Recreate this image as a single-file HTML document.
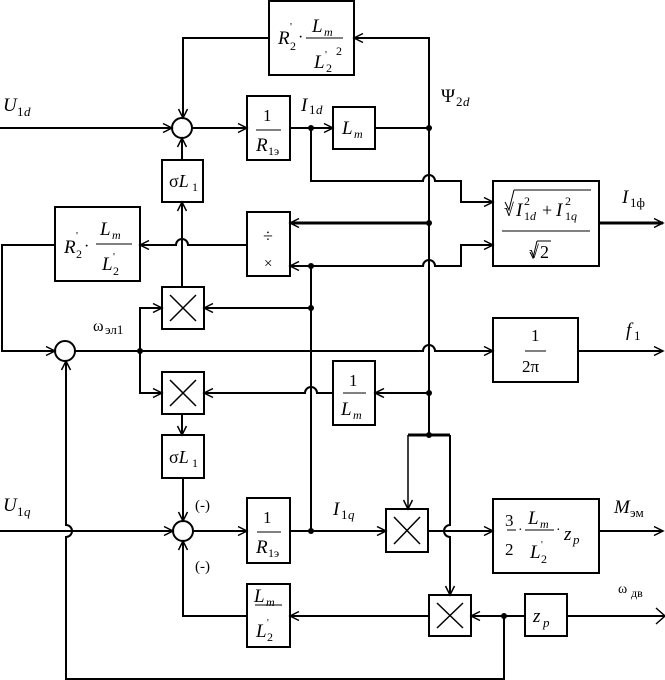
<!DOCTYPE html>
<html><head><meta charset="utf-8"><style>
html,body{margin:0;padding:0;background:#fff}
svg{display:block}
text{font-family:"Liberation Serif",serif;fill:#000}
.i{font-style:italic}
</style></head><body>
<svg width="665" height="680" viewBox="0 0 665 680" xmlns="http://www.w3.org/2000/svg">
<defs>
<marker id="a" markerUnits="userSpaceOnUse" markerWidth="12" markerHeight="12" refX="10" refY="5" orient="auto" viewBox="0 0 12 10">
<path d="M1,0.5 L10,5 L1,9.5" fill="none" stroke="#000" stroke-width="1.5"/>
</marker>
</defs>
<g fill="none" stroke="#000" stroke-width="2">
<rect x="269" y="1" width="85" height="74"/>
<rect x="247" y="96" width="43" height="64"/>
<rect x="333" y="107" width="42" height="42"/>
<rect x="162" y="160" width="41" height="42"/>
<rect x="493" y="181" width="106" height="85"/>
<rect x="247" y="212" width="43" height="64"/>
<rect x="55" y="207" width="85" height="74"/>
<rect x="162" y="287" width="42" height="42"/>
<rect x="493" y="318" width="85" height="64"/>
<rect x="162" y="372" width="42" height="42"/>
<rect x="333" y="361" width="42" height="64"/>
<rect x="162" y="435" width="42" height="43"/>
<rect x="247" y="498" width="43" height="65"/>
<rect x="386" y="509" width="42" height="43"/>
<rect x="493" y="499" width="106" height="74"/>
<rect x="429" y="595" width="42" height="41"/>
<rect x="525" y="594" width="42" height="42"/>
<rect x="247" y="584" width="43" height="63"/>
<circle cx="182" cy="128" r="10"/>
<circle cx="65" cy="351" r="10"/>
<circle cx="183" cy="531" r="10"/>
</g>
<g fill="none" stroke="#000" stroke-width="1.5">
<path d="M170,295 L196,321 M196,295 L170,321"/>
<path d="M170,380 L196,406 M196,380 L170,406"/>
<path d="M394,517 L420,544 M420,517 L394,544"/>
<path d="M437,603 L463,628 M463,603 L437,628"/>
</g>
<g fill="none" stroke="#000" stroke-width="2">
<path d="M429,435 L429,38 L354,38" marker-end="url(#a)"/>
<path d="M269,38 L183,38 L183,118" marker-end="url(#a)"/>
<path d="M0,128 L172,128" marker-end="url(#a)"/>
<path d="M192,128 L247,128" marker-end="url(#a)"/>
<path d="M290,128 L333,128" marker-end="url(#a)"/>
<path d="M375,128 L429,128"/>
<path d="M182,160 L182,138" marker-end="url(#a)"/>
<path d="M311,128 L311,181 L423,181 A6,6 0 0 1 435,181 L461,181 L461,202 L493,202" marker-end="url(#a)"/>
<path d="M429,223 L290,223" stroke-width="3" marker-end="url(#a)"/>
<path d="M599,223 L663,223" stroke-width="3" marker-end="url(#a)"/>
<path d="M247,245 L188,245 A6,6 0 0 0 176,245 L140,245" marker-end="url(#a)"/>
<path d="M311,531 L311,266 L290,266" marker-end="url(#a)"/>
<path d="M311,266 L423,266 A6,6 0 0 1 435,266 L461,266 L461,245 L493,245" marker-end="url(#a)"/>
<path d="M311,308 L204,308" marker-end="url(#a)"/>
<path d="M182,287 L182,202" marker-end="url(#a)"/>
<path d="M55,245 L2,245 L2,351 L55,351" marker-end="url(#a)"/>
<path d="M75,351 L423,351 A6,6 0 0 1 435,351 L493,351" marker-end="url(#a)"/>
<path d="M578,351 L663,351" marker-end="url(#a)"/>
<path d="M140,351 L140,308 L162,308" marker-end="url(#a)"/>
<path d="M140,351 L140,393 L162,393" marker-end="url(#a)"/>
<path d="M429,393 L375,393" marker-end="url(#a)"/>
<path d="M333,393 L317,393 A6,6 0 0 0 305,393 L204,393" marker-end="url(#a)"/>
<path d="M182,414 L182,435" marker-end="url(#a)"/>
<path d="M183,478 L183,521" marker-end="url(#a)"/>
<path d="M0,531 L173,531" marker-end="url(#a)"/>
<path d="M193,531 L247,531" marker-end="url(#a)"/>
<path d="M290,531 L386,531" marker-end="url(#a)"/>
<path d="M428,531 L493,531" marker-end="url(#a)"/>
<path d="M599,531 L663,531" marker-end="url(#a)"/>
<path d="M408,435 L450,435" stroke-width="3"/>
<path d="M408,435 L408,509" stroke-width="1.5" marker-end="url(#a)"/>
<path d="M450,435 L450,525 A6,6 0 0 0 450,537 L450,595" marker-end="url(#a)"/>
<path d="M665,616 L567,616"/>
<path d="M656,608 L665,616 L656,624" stroke-width="1.5"/>
<path d="M525,616 L471,616" marker-end="url(#a)"/>
<path d="M429,616 L290,616" marker-end="url(#a)"/>
<path d="M247,616 L183,616 L183,541" marker-end="url(#a)"/>
<path d="M504,616 L504,679 L66,679 L66,537 A6,6 0 0 0 66,525 L66,361" marker-end="url(#a)"/>
</g>
<g fill="none" stroke="#000" stroke-width="1">
<path d="M306,38 L343,38"/>
<path d="M96,244 L132,244"/>
<path d="M256,130 L281,130"/>
<path d="M257,532 L281,532"/>
<path d="M343,393 L366,393"/>
<path d="M525,351 L546,351"/>
<path d="M502,231 L590,231"/>
<path d="M514,190 L591,190 M514,190 L509,210 L505,202"/>
<path d="M537,241 L551,241 M537,241 L533,258 L530,252"/>
<path d="M507,530 L516,530 M525,530 L554,530"/>
<path d="M255,605 L282,605"/>
</g>
<g fill="#000">
<circle cx="311" cy="128" r="3"/><circle cx="429" cy="128" r="3"/>
<circle cx="429" cy="223" r="3"/><circle cx="311" cy="266" r="3"/>
<circle cx="311" cy="308" r="3"/><circle cx="140" cy="351" r="3"/>
<circle cx="429" cy="393" r="3"/><circle cx="429" cy="435" r="3"/>
<circle cx="311" cy="531" r="3"/><circle cx="504" cy="616" r="3"/>
</g>
<text x="278" y="44" class="i" font-size="19">R</text><text x="290" y="30" font-size="11">'</text><text x="290" y="50" font-size="12">2</text>
<text x="298" y="42" font-size="16">·</text>
<text x="312" y="32" class="i" font-size="19">L</text><text x="324" y="36" class="i" font-size="12">m</text>
<text x="314" y="68" class="i" font-size="19">L</text><text x="325" y="58" font-size="11">'</text><text x="326" y="72" font-size="12">2</text><text x="336" y="55" font-size="12">2</text>
<text x="3" y="111" class="i" font-size="19">U</text><text x="17" y="116" font-size="13">1</text><text x="24" y="116" class="i" font-size="13">d</text>
<text x="263" y="121" font-size="17">1</text>
<text x="256" y="151" class="i" font-size="19">R</text><text x="268" y="155" font-size="12">1э</text>
<text x="301" y="111" class="i" font-size="19">I</text><text x="309" y="114" font-size="13">1</text><text x="316" y="114" class="i" font-size="13">d</text>
<text x="342" y="134" class="i" font-size="19">L</text><text x="354" y="138" class="i" font-size="12">m</text>
<text x="441" y="102" font-size="19">Ψ</text><text x="456" y="106" font-size="13">2</text><text x="463" y="106" class="i" font-size="13">d</text>
<text x="169" y="187" font-size="18">σ<tspan class="i">L</tspan></text><text x="192" y="191" font-size="12">1</text>
<text x="504" y="216" font-size="18">√</text><text x="516" y="216" class="i" font-size="19">I</text><text x="524" y="205" font-size="12">2</text><text x="524" y="220" font-size="12">1<tspan class="i">d</tspan></text><text x="542" y="216" font-size="18">+</text><text x="556" y="216" class="i" font-size="19">I</text><text x="565" y="205" font-size="12">2</text><text x="565" y="220" font-size="12">1<tspan class="i">q</tspan></text>
<text x="529" y="258" font-size="18">√</text><text x="540" y="258" font-size="18">2</text>
<text x="622" y="203" class="i" font-size="19">I</text><text x="630" y="207" font-size="13">1ф</text>
<text x="263" y="242" font-size="18">÷</text>
<text x="264" y="268" font-size="15">×</text>
<text x="64" y="253" class="i" font-size="19">R</text><text x="76" y="239" font-size="11">'</text><text x="76" y="258" font-size="12">2</text>
<text x="84" y="251" font-size="16">·</text>
<text x="100" y="235" class="i" font-size="19">L</text><text x="112" y="239" class="i" font-size="12">m</text>
<text x="102" y="270" class="i" font-size="19">L</text><text x="113" y="260" font-size="11">'</text><text x="113" y="275" font-size="12">2</text>
<text x="93" y="331" font-size="16">ω</text><text x="105" y="334" font-size="13">эл1</text>
<text x="531" y="341" font-size="17">1</text>
<text x="522" y="372" font-size="17">2π</text>
<text x="626" y="336" class="i" font-size="19">f</text><text x="634" y="340" font-size="13">1</text>
<text x="349" y="386" font-size="17">1</text>
<text x="341" y="415" class="i" font-size="19">L</text><text x="353" y="419" class="i" font-size="12">m</text>
<text x="169" y="463" font-size="18">σ<tspan class="i">L</tspan></text><text x="192" y="467" font-size="12">1</text>
<text x="3" y="511" class="i" font-size="19">U</text><text x="17" y="516" font-size="13">1</text><text x="24" y="516" class="i" font-size="13">q</text>
<text x="195" y="510" font-size="15">(-)</text>
<text x="195" y="571" font-size="15">(-)</text>
<text x="263" y="523" font-size="17">1</text>
<text x="256" y="553" class="i" font-size="19">R</text><text x="268" y="557" font-size="12">1э</text>
<text x="333" y="515" class="i" font-size="19">I</text><text x="341" y="519" font-size="13">1</text><text x="348" y="519" class="i" font-size="13">q</text>
<text x="505" y="526" font-size="17">3</text><text x="505" y="555" font-size="17">2</text>
<text x="518" y="534" font-size="14">·</text>
<text x="528" y="524" class="i" font-size="19">L</text><text x="540" y="528" class="i" font-size="12">m</text>
<text x="530" y="558" class="i" font-size="19">L</text><text x="541" y="548" font-size="10">'</text><text x="541" y="563" font-size="12">2</text>
<text x="556" y="534" font-size="14">·</text>
<text x="564" y="540" class="i" font-size="19">z</text><text x="573" y="544" class="i" font-size="13">p</text>
<text x="614" y="513" class="i" font-size="19">M</text><text x="630" y="517" font-size="13">эм</text>
<text x="618" y="593" font-size="14">ω</text><text x="631" y="597" font-size="12">дв</text>
<text x="533" y="622" class="i" font-size="19">z</text><text x="543" y="627" class="i" font-size="13">p</text>
<text x="254" y="602" class="i" font-size="19">L</text><text x="266" y="606" class="i" font-size="12">m</text>
<text x="256" y="637" class="i" font-size="19">L</text><text x="267" y="626" font-size="10">'</text><text x="267" y="641" font-size="12">2</text>
</svg>
</body></html>
